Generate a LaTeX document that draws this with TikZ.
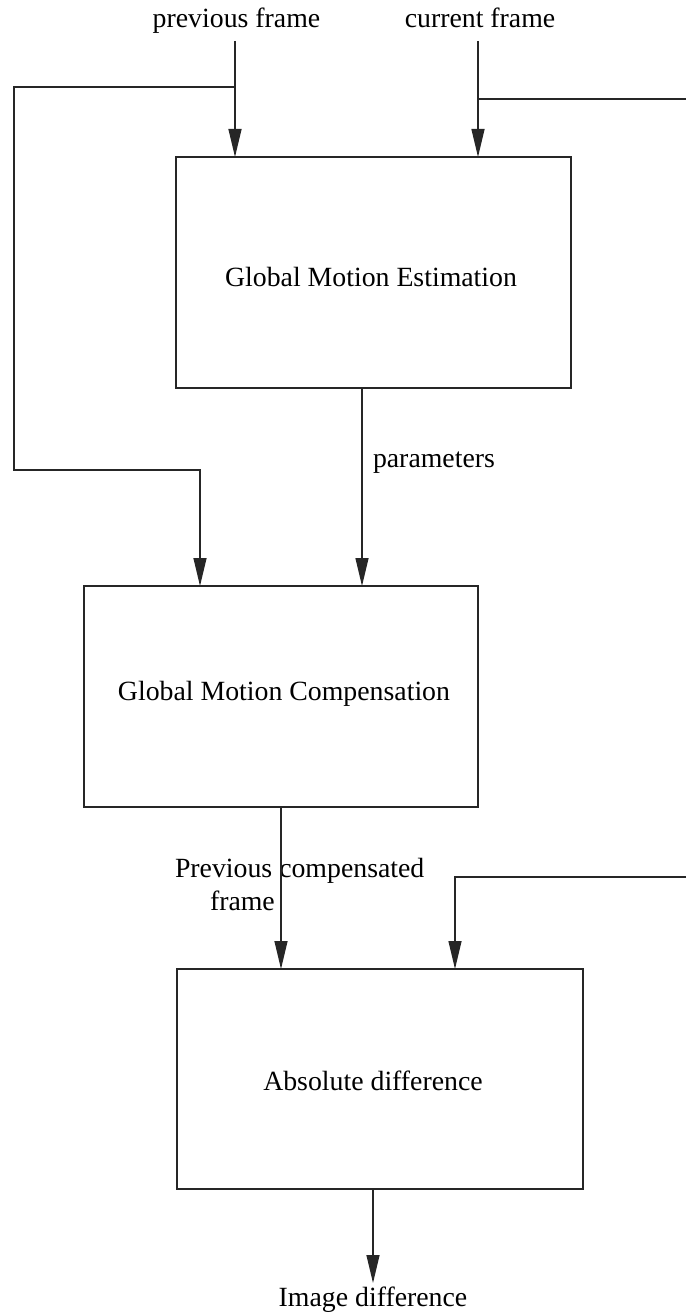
\documentclass[tikz,border=0pt]{standalone}
\usepackage{fontspec}
\setmainfont{Liberation Serif}
\usetikzlibrary{arrows.meta}
\newcommand{\boxtxt}[3]{\raisebox{-#2}[0pt][0pt]{\makebox[0pt]{\hspace*{#1}#3}}}
\tikzset{
  wire/.style={line width=1.3pt, draw=black!85},
  arr/.style={wire, -{Triangle[length=28pt,width=13pt]}},
  blk/.style={draw=black!85, line width=1.3pt, inner sep=0pt, outer sep=0pt},
  lbl/.style={inner sep=0pt, outer sep=0pt, anchor=base},
}
\begin{document}
\begin{tikzpicture}[x=1pt,y=-1pt, font=\fontsize{27.8}{33}\selectfont]
\useasboundingbox (0,0) rectangle (686,1316);
% text labels
\node[lbl] (pf) at (236.5,28) {previous frame};
\node[lbl] (cf) at (480,28) {current frame};
\node[lbl, anchor=base west] (par) at (373,467) {parameters};
\node[lbl, anchor=base west] (pc1) at (175,877) {Previous compensated};
\node[lbl, anchor=base west] (pc2) at (210,910) {frame};
\node[lbl] (id) at (373,1306) {Image difference};
% boxes
\node[blk, minimum width=395pt, minimum height=231pt] (gme) at (373.5,272.5)
  {\boxtxt{-5pt}{14pt}{Global Motion Estimation}};
\node[blk, minimum width=394pt, minimum height=221pt] (gmc) at (281,696.5)
  {\boxtxt{6pt}{4pt}{Global Motion Compensation}};
\node[blk, minimum width=406pt, minimum height=220pt] (ad) at (380,1079)
  {\boxtxt{-14pt}{11pt}{Absolute difference}};
% coordinates
\coordinate (pfs) at (235,41);
\coordinate (j1) at (235,87);
\coordinate (cfs) at (478,41);
\coordinate (j2) at (478,99);
\coordinate (rin) at (686,99);
\coordinate (rin2) at (686,877);
\coordinate (out) at (373,1283);
% connectors
\draw[arr] (pfs) -- (pfs |- gme.north);
\draw[arr] (j1) -- (14,87) -- (14,470) -- (200,470) -- (200,470 |- gmc.north);
\draw[arr] (cfs) -- (cfs |- gme.north);
\draw[wire] (j2) -- (rin);
\draw[arr] (362,0 |- gme.south) -- (362,0 |- gmc.north);
\draw[arr] (gmc.south) -- (gmc.south |- ad.north);
\draw[arr] (rin2) -- (455,877) -- (455,877 |- ad.north);
\draw[arr] (373,0 |- ad.south) -- (out);
\end{tikzpicture}
\end{document}
